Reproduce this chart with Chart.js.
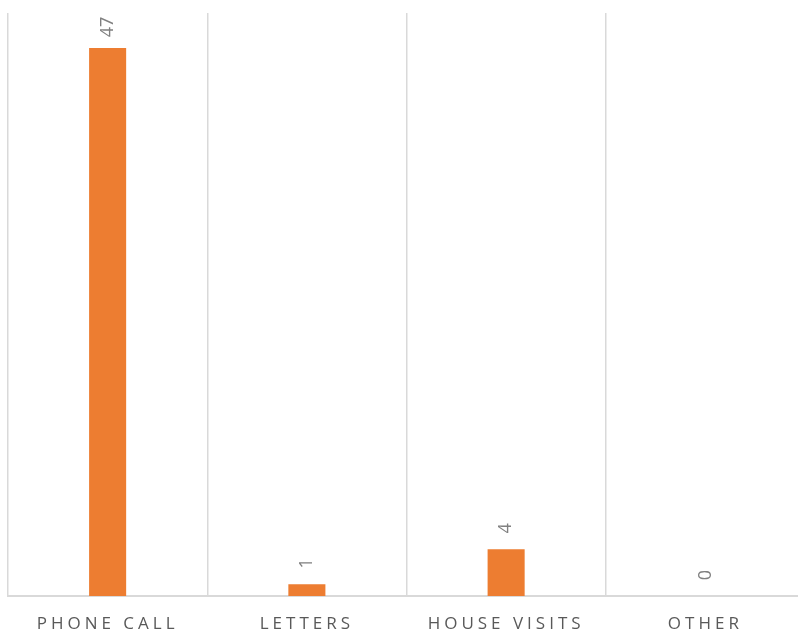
<!DOCTYPE html>
<html>
<head>
<meta charset="utf-8">
<script src="https://cdn.jsdelivr.net/npm/chart.js@4"></script>
<style>
    html, body { margin: 0; padding: 0; background: #fff; overflow: hidden; }
    #frame { width: 798px; height: 634px; overflow: hidden; position: relative; }
    #chart-container { position: absolute; left: 0; top: 0; width: 820px; height: 634px; }
</style>
</head>
<body>
<div id="frame"><div id="chart-container"><canvas id="contactChart"></canvas></div></div>
<script>
const categories = ["PHONE CALL", "LETTERS", "HOUSE VISITS", "OTHER"];
const contactCounts = [47, 1, 4, 0];
const yMin = 0;
const yMax = 50;

// étiquettes de valeur tournées au-dessus des barres
const valueLabels = {
    id: "valueLabels",
    beforeDraw(chart) {
        chart.ctx.letterSpacing = "4px";
    },
    afterDatasetsDraw(chart) {
        const ctx = chart.ctx;
        const meta = chart.getDatasetMeta(0);
        ctx.save();
        ctx.letterSpacing = "0px";
        ctx.fillStyle = "#808080";
        ctx.font = "18px 'Open Sans'";
        ctx.textAlign = "center";
        ctx.textBaseline = "middle";
        meta.data.forEach((bar, i) => {
            ctx.save();
            ctx.translate(bar.x, bar.y - 21);
            ctx.rotate(-Math.PI / 2);
            ctx.fillText(String(contactCounts[i]), 0, 0);
            ctx.restore();
        });
        ctx.restore();
    }
};

const ctx = document.getElementById("contactChart").getContext("2d");
new Chart(ctx, {
    type: "bar",
    data: {
        labels: categories,
        datasets: [{
            data: contactCounts,
            backgroundColor: "#ed7d31",
            borderWidth: 0,
            categoryPercentage: 1,
            barPercentage: 0.186
        }]
    },
    options: {
        responsive: true,
        maintainAspectRatio: false,
        animation: false,
        layout: { padding: { left: 8, right: 15, top: 13, bottom: 0 } },
        plugins: {
            legend: { display: false },
            tooltip: { enabled: false }
        },
        scales: {
            x: {
                grid: {
                    offset: true,
                    // la dernière ligne (bord droit) n'a pas de contexte de tick
                    color: c => (c.type === "tick" ? "#d9d9d9" : "rgba(0,0,0,0)"),
                    lineWidth: 1.5,
                    drawTicks: false
                },
                border: { color: "#d9d9d9", width: 2 },
                ticks: {
                    color: "#595959",
                    font: { family: "'Open Sans'", size: 17 },
                    padding: 18,
                    maxRotation: 0,
                    autoSkip: false
                },
                afterFit(scale) { scale.height = 38; }
            },
            y: {
                display: false,
                min: yMin,
                max: yMax
            }
        }
    },
    plugins: [valueLabels]
});
</script>
</body>
</html>
